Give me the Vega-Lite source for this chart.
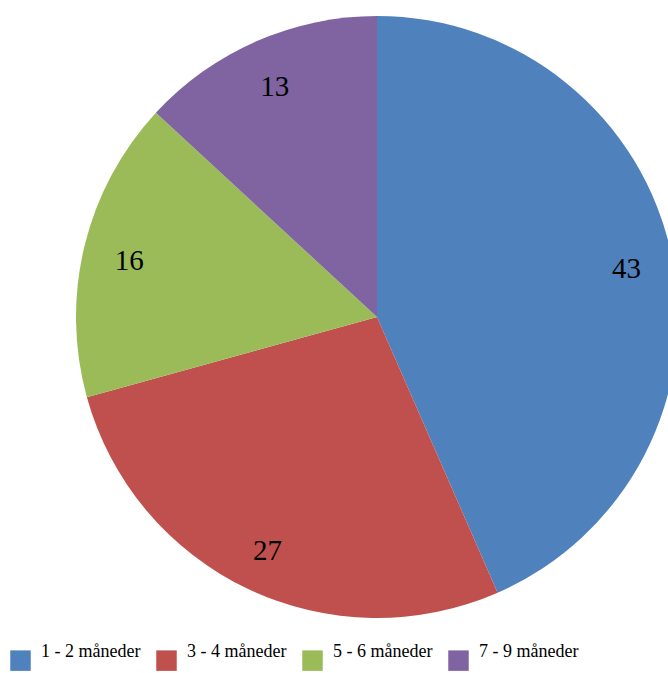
{
  "$schema": "https://vega.github.io/schema/vega-lite/v6.json",
  "width": 754,
  "height": 673,
  "autosize": "none",
  "padding": 0,
  "background": "white",
  "config": {"view": {"stroke": null}},
  "data": {"values": [
    {"group": "1 - 2 måneder", "value": 43, "idx": 1},
    {"group": "3 - 4 måneder", "value": 27, "idx": 2},
    {"group": "5 - 6 måneder", "value": 16, "idx": 3},
    {"group": "7 - 9 måneder", "value": 13, "idx": 4}
  ]},
  "encoding": {
    "theta": {"field": "value", "type": "quantitative", "stack": true},
    "order": {"field": "idx", "type": "quantitative"}
  },
  "layer": [
    {"mark": {"type": "arc", "outerRadius": 301, "x": 377, "y": 317},
     "encoding": {
      "color": {
        "field": "group", "type": "nominal",
        "scale": {"domain": ["1 - 2 måneder", "3 - 4 måneder", "5 - 6 måneder", "7 - 9 måneder"],
                  "range": ["#4F81BD", "#C0504D", "#9BBB59", "#8064A2"]},
        "legend": {
          "title": null, "orient": "none", "direction": "horizontal", "columns": 4,
          "legendX": 10, "legendY": 650,
          "symbolType": "square", "symbolSize": 420, "symbolStrokeWidth": 0,
          "symbolOpacity": 1,
          "labelFont": "Liberation Serif", "labelFontSize": 18, "labelColor": "black",
          "labelOffset": 10, "labelBaseline": "bottom", "columnPadding": 15
        }
      }
     }},
    {"mark": {"type": "text", "radius": 255, "x": 377, "y": 317, "dy": 4, "font": "Liberation Serif", "fontSize": 29, "color": "black"},
     "encoding": {"text": {"field": "value", "type": "quantitative"}, "detail": {"field": "group", "type": "nominal"}}}
  ]
}
